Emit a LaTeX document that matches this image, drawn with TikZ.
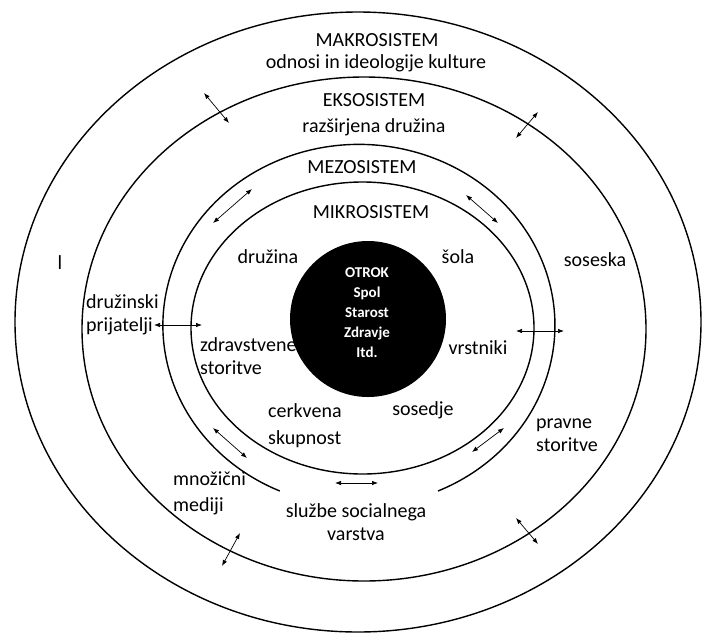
\documentclass[tikz,border=0pt]{standalone}
\usepackage{fontspec}
\setmainfont{Carlito}
\usetikzlibrary{arrows.meta}

\tikzset{
  ring/.style={line width=1.4pt},
  ttl/.style={font=\fontsize{20}{23}\selectfont, inner sep=0pt},
  lbl/.style={font=\fontsize{20}{23}\selectfont, inner sep=0pt, align=left},
  link/.style={line width=0.7pt, {Latex[length=6pt,width=4.5pt]}-{Latex[length=6pt,width=4.5pt]}},
  kid/.style={font=\bfseries\fontsize{15}{20}\selectfont, text=white, align=center, inner sep=0pt}
}

\begin{document}
\begin{tikzpicture}[x=1pt, y=-1pt]
    \useasboundingbox (0,0) rectangle (702,633);

    % system rings
    \draw[ring] (358,322) ellipse[x radius=343pt, y radius=310pt];
    \draw[ring] (364,329) ellipse[x radius=282pt, y radius=252pt];
    \draw[ring] (438,491) arc[start angle=-66.2, end angle=246.2, x radius=196pt, y radius=181pt];
    \draw[ring] (362.5,328) ellipse[x radius=171.5pt, y radius=146pt];

    % the child
    \node[circle, fill=black, minimum size=156pt, inner sep=0pt] (otrok) at (368,319) {};
    \node[kid] (otrok-txt) at (367,313) {OTROK\\Spol\\Starost\\Zdravje\\Itd.};

    % ring titles
    \node[ttl] (makro) at (377,40) {MAKROSISTEM};
    \node[ttl] (makro-sub) at (376,63) {odnosi in ideologije kulture};
    \node[ttl] (ekso) at (374,100) {EKSOSISTEM};
    \node[ttl] (ekso-sub) at (374,127) {razširjena družina};
    \node[ttl] (mezo) at (362,167) {MEZOSISTEM};
    \node[ttl] (mikro) at (371,212) {MIKROSISTEM};

    % settings
    \node[lbl] (l-mark) at (60,263) {l};
    \node[lbl] (druzina) at (268,257) {družina};
    \node[lbl] (sola) at (458,257) {šola};
    \node[lbl] (soseska) at (595,260) {soseska};
    \node[lbl, anchor=west] (prijatelji) at (86,314.5) {družinski\\prijatelji};
    \node[lbl, anchor=west] (zdravstvo) at (200,356) {zdravstvene\\storitve};
    \node[lbl] (vrstniki) at (478,348) {vrstniki};
    \node[lbl, anchor=west] (cerkev) at (268,425.5) {cerkvena\\[4pt]skupnost};
    \node[lbl] (sosedje) at (423,410) {sosedje};
    \node[lbl, anchor=west] (pravo) at (536,435.5) {pravne\\storitve};
    \node[lbl, anchor=west] (mediji) at (173,493) {množični\\[3pt]mediji};
    \node[lbl, align=center] (sociala) at (356,522.5) {službe socialnega\\varstva};

    % arrow ends
    \coordinate (a1) at (204,93);   \coordinate (b1) at (229,123);
    \coordinate (a2) at (538,112);  \coordinate (b2) at (516,138);
    \coordinate (a3) at (252,189);  \coordinate (b3) at (213,223);
    \coordinate (a4) at (466,195);  \coordinate (b4) at (498,223);
    \coordinate (a5) at (154,325);  \coordinate (b5) at (202,325);
    \coordinate (a6) at (516,331);  \coordinate (b6) at (564,331);
    \coordinate (a7) at (213,428);  \coordinate (b7) at (247,458);
    \coordinate (a8) at (504,428);  \coordinate (b8) at (472,452);
    \coordinate (a9) at (335,483);  \coordinate (b9) at (378,483);
    \coordinate (a10) at (240,533); \coordinate (b10) at (222,566);
    \coordinate (a11) at (516,518); \coordinate (b11) at (538,544);

    % interactions
    \foreach \i in {1,...,11}
        \draw[link] (a\i) -- (b\i);
\end{tikzpicture}
\end{document}
